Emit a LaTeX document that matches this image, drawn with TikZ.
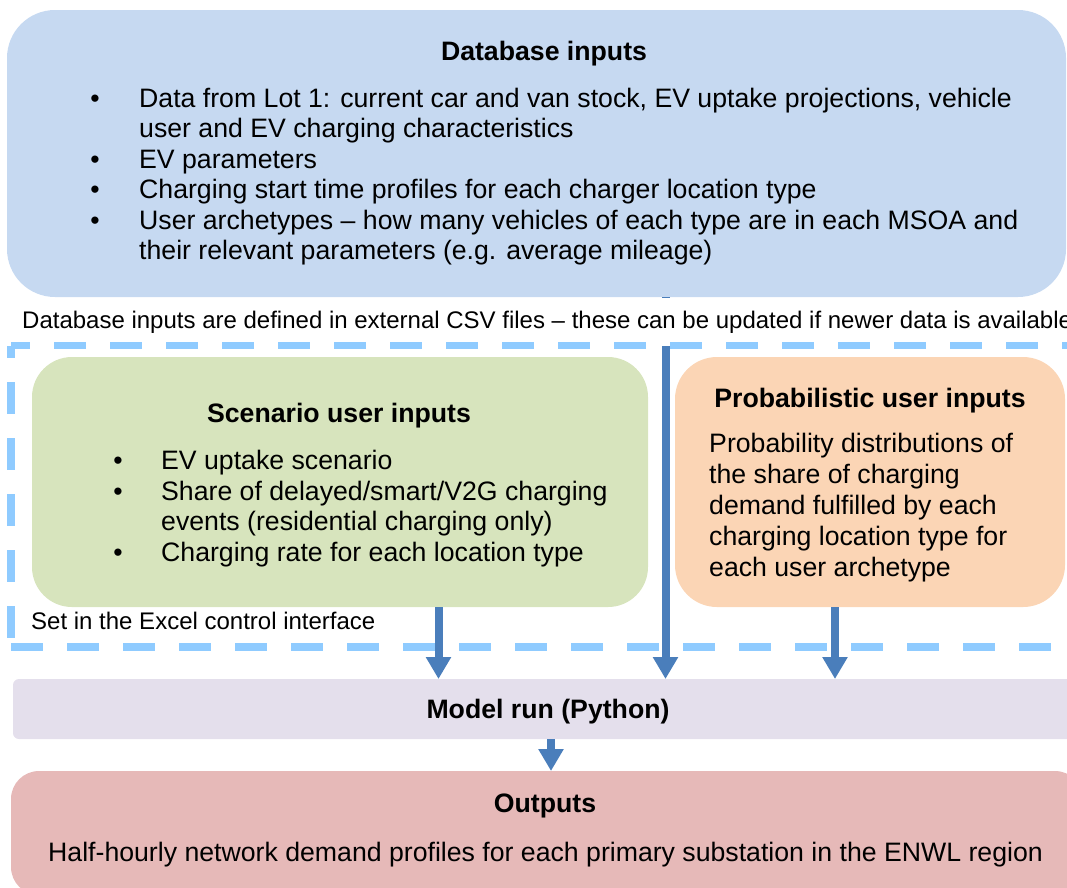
\documentclass[tikz,border=0pt]{standalone}
\usepackage{fontspec}
\setmainfont{Liberation Sans}
\usetikzlibrary{arrows.meta}
\definecolor{dbfill}{RGB}{198,217,241}
\definecolor{scfill}{RGB}{215,228,189}
\definecolor{prfill}{RGB}{251,213,181}
\definecolor{mdfill}{RGB}{228,223,236}
\definecolor{oufill}{RGB}{230,185,184}
\definecolor{dashc}{RGB}{143,203,255}
\definecolor{arrowc}{RGB}{74,126,187}
\tikzset{
  box/.style={draw=none, inner sep=0pt, outer sep=0pt},
  body/.style={anchor=base west, inner sep=0pt, font=\fontsize{26.67}{30}\selectfont},
  bul/.style={anchor=base, inner sep=0pt, font=\fontsize{26.67}{30}\selectfont},
  ttl/.style={anchor=base, inner sep=0pt, font=\fontsize{26.67}{30}\selectfont\bfseries},
  note/.style={anchor=base west, inner sep=0pt, font=\fontsize{24}{28}\selectfont},
  flow/.style={draw=arrowc, line width=8pt, -{Triangle[width=24pt,length=22pt]}},
  dashln/.style={draw=dashc, line width=7.5pt},
}
\begin{document}
\begin{tikzpicture}[x=1pt,y=-1pt]
\useasboundingbox (0,0) rectangle (1067,887);
\clip (0,0) rectangle (1067,887);
% boxes
\node[box, fill=dbfill, rounded corners=48pt, minimum width=1059pt, minimum height=287pt] (db) at (536.5,153.5) {};
\node[box, fill=scfill, rounded corners=40pt, minimum width=616pt, minimum height=250pt] (sc) at (340,482) {};
\node[box, fill=prfill, rounded corners=42pt, minimum width=390pt, minimum height=250pt] (pr) at (870,482) {};
\node[box, fill=mdfill, rounded corners=6pt, minimum width=1070pt, minimum height=60pt] (md) at (548,709) {};
\node[box, fill=oufill, rounded corners=28pt, minimum width=1072pt, minimum height=124pt] (ou) at (547,833) {};
% coordinates for arrow columns
\coordinate (c1) at (438.5,0);
\coordinate (c2) at (665.5,0);
\coordinate (c3) at (835,0);
\coordinate (c4) at (551,0);
% database to model
\draw[flow] (db.south -| c2) -- (md.north -| c2);
% note between database and dashed frame
\node[note, fill=white, text height=30pt, text depth=18pt] (dbnote) at (22,328) {Database inputs are defined in external CSV files – these can be updated if newer data is available};
% dashed frame
\coordinate (fa) at (11,345.5);
\coordinate (fb) at (1100,345.5);
\coordinate (fc) at (11,647);
\coordinate (fd) at (1100,647);
\draw[dashln, dash pattern=on 32pt off 24pt, dash phase=13pt] (fa) -- (fb);
\draw[dashln, dash pattern=on 32pt off 24pt, dash phase=19.5pt] (fa) -- (fc);
\draw[dashln, dash pattern=on 32pt off 24pt, dash phase=0pt] (fc) -- (fd);
% arrows
\draw[flow] (sc.south -| c1) -- (md.north -| c1);
\draw[flow] (pr.south -| c3) -- (md.north -| c3);
\draw[flow] (md.south -| c4) -- (ou.north -| c4);
% database text
\node[ttl] (dbt) at (544,60.7) {Database inputs};
\node[bul] (dbb1) at (95,107) {•};
\node[body] (dbl1) at (139,107) {Data from Lot 1: current car and van stock, EV uptake projections, vehicle};
\node[body] (dbl2) at (139,137) {user and EV charging characteristics};
\node[bul] (dbb2) at (95,168) {•};
\node[body] (dbl3) at (139,168) {EV parameters};
\node[bul] (dbb3) at (95,198) {•};
\node[body] (dbl4) at (139,198) {Charging start time profiles for each charger location type};
\node[bul] (dbb4) at (95,229) {•};
\node[body] (dbl5) at (139,229) {User archetypes – how many vehicles of each type are in each MSOA and};
\node[body] (dbl6) at (139,259) {their relevant parameters (e.g. average mileage)};
% scenario text
\node[ttl] (sct) at (339,422) {Scenario user inputs};
\node[bul] (scb1) at (118,469.5) {•};
\node[body] (scl1) at (161,469.5) {EV uptake scenario};
\node[bul] (scb2) at (118,500.5) {•};
\node[body] (scl2) at (161,500.5) {Share of delayed/smart/V2G charging};
\node[body] (scl3) at (161,530.5) {events (residential charging only)};
\node[bul] (scb3) at (118,561.5) {•};
\node[body] (scl4) at (161,561.5) {Charging rate for each location type};
\node[note] (scnote) at (31,629) {Set in the Excel control interface};
% probabilistic text
\node[ttl] (prt) at (870,407) {Probabilistic user inputs};
\node[body] (prl1) at (709,452.5) {Probability distributions of};
\node[body] (prl2) at (709,483.5) {the share of charging};
\node[body] (prl3) at (709,514.5) {demand fulfilled by each};
\node[body] (prl4) at (709,545.5) {charging location type for};
\node[body] (prl5) at (709,576.5) {each user archetype};
% model and outputs
\node[ttl] (mdt) at (548,718) {Model run (Python)};
\node[ttl] (out) at (545,812) {Outputs};
\node[body] (oul) at (48,861) {Half-hourly network demand profiles for each primary substation in the ENWL region};
\end{tikzpicture}
\end{document}
